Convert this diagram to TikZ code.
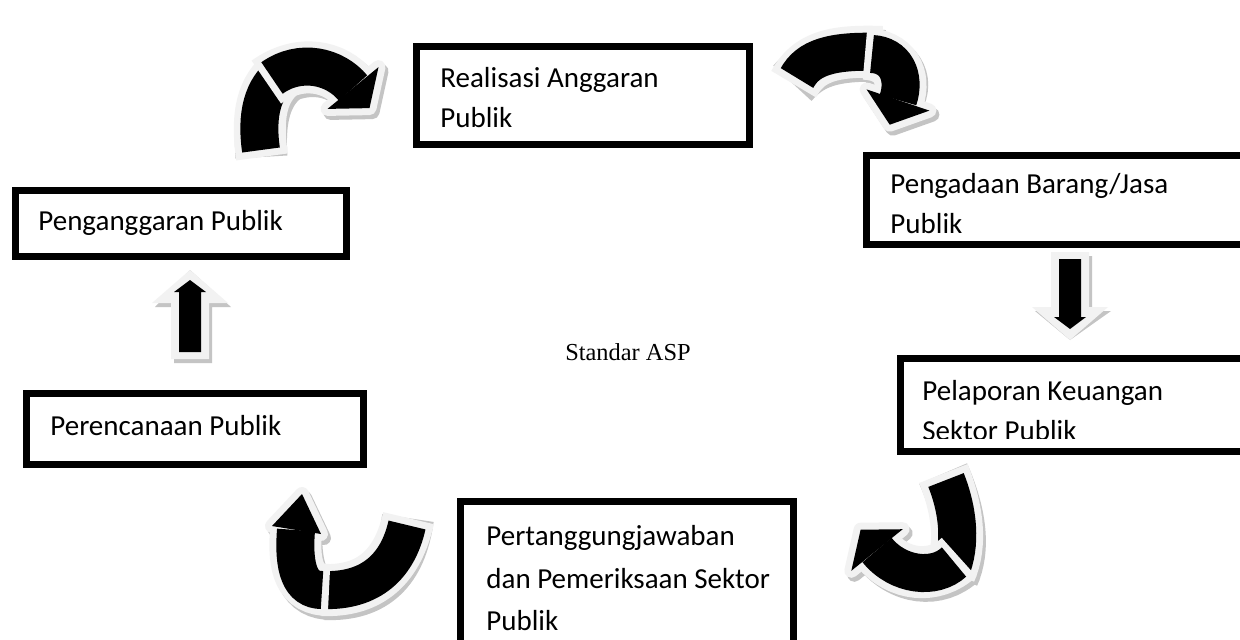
\documentclass[tikz,border=0pt]{standalone}
\usepackage{fontspec}
\setmainfont{Carlito}
\newfontfamily\serifasp{Liberation Serif}
\definecolor{rimgray}{HTML}{F2F2F2}
\definecolor{shadegray}{HTML}{C4C4C4}
\tikzset{
  box/.style={draw=black, line width=3.5pt, inner sep=0pt, outer sep=0pt},
  lbl/.style={anchor=base west, inner sep=0pt, font=\fontsize{14.5pt}{17pt}\selectfont},
  bandshadow/.style={draw=shadegray, line width=26pt},
  bandrim/.style={draw=rimgray, line width=26pt},
  bandcore/.style={draw=black, line width=19pt},
  headshadow/.style={fill=shadegray, draw=shadegray, line width=7pt, line join=round},
  headrim/.style={fill=rimgray, draw=rimgray, line width=7pt, line join=round},
  headcore/.style={fill=black},
}
\newcommand\twistarrow[3]{%
  \begin{scope}[shift={(3,4)}]
    \path[bandshadow, shorten <=-3.5pt] #1;
    \path[bandshadow, shorten <=-3.5pt] #2;
    \path[headshadow] #3;
  \end{scope}
  \path[bandrim, shorten <=-3.5pt] #1;
  \path[bandcore] #1;
  \path[bandrim, shorten <=-3.5pt] #2;
  \path[headrim] #3;
  \path[bandcore] #2;
  \path[headcore] #3;
}
\begin{document}
\begin{tikzpicture}[x=0.5pt, y=-0.5pt]
\fill[white] (0,0) rectangle (1240,639);
\useasboundingbox (0,0) rectangle (1240,639);

% boxes
\node[box, minimum width=166.5pt, minimum height=49pt] (realisasi) at (583,95.5) {};
\node[box, minimum width=188.25pt, minimum height=44.5pt] (pengadaan) at (1054.75,200) {};
\node[box, minimum width=165.5pt, minimum height=33pt] (penganggaran) at (181,223.5) {};
\node[box, minimum width=168.5pt, minimum height=35.5pt] (perencanaan) at (195,429) {};
\node[box, minimum width=171.25pt, minimum height=46.5pt] (pelaporan) at (1071.75,405) {};
\node[box, minimum width=166.5pt, minimum height=71.75pt] (pertanggung) at (627,573.25) {};

% texts
\node[lbl] (t1a) at (440,87) {Realisasi Anggaran};
\node[lbl] (t1b) at (440,127) {Publik};
\node[lbl] (t2a) at (890,193) {Pengadaan Barang/Jasa};
\node[lbl] (t2b) at (890,233) {Publik};
\node[lbl] (t3) at (38,230) {Penganggaran Publik};
\node[lbl] (t4) at (50,435) {Perencanaan Publik};
\node[lbl] (t5a) at (922,400) {Pelaporan Keuangan};
\begin{scope}
  \clip (905,360) rectangle (1240,438);
  \node[lbl] (t5b) at (922,440) {Sektor Publik};
\end{scope}
\node[lbl] (t6a) at (486,545) {Pertanggungjawaban};
\node[lbl] (t6b) at (486,588) {dan Pemeriksaan Sektor};
\node[lbl] (t6c) at (486,630) {Publik};
\node[anchor=base, inner sep=0pt, font=\serifasp\fontsize{12.2pt}{14pt}\selectfont] (asp) at (628,360) {Standar ASP};

% curved arrows
\coordinate (A0) at (261,150); \coordinate (A1) at (353,88);
\twistarrow{(A0) .. controls (256,115) and (262,88) .. (284,72)}
           {(272,78) .. controls (300,58) and (335,66) .. (A1)}
           {(378.5,67.1) -- (369.5,108.1) -- (327.5,108.9) -- cycle}

\coordinate (B0) at (797,78); \coordinate (B1) at (898,100);
\twistarrow{(B0) .. controls (808,58) and (830,50) .. (882,52)}
           {(872,54) .. controls (895,55) and (906,76) .. (B1)}
           {(929.4,110.6) -- (889.7,124.7) -- (866.6,89.4) -- cycle}

\coordinate (C0) at (946,480); \coordinate (C1) at (877,550);
\twistarrow{(C0) .. controls (958,510) and (962,545) .. (950,572)}
           {(954,562) .. controls (935,580) and (898,576) .. (C1)}
           {(902.7,529.2) -- (860.6,529.7) -- (851.3,570.8) -- cycle}

\coordinate (D0) at (407,525); \coordinate (D1) at (296,530);
\twistarrow{(D0) .. controls (398,565) and (372,592) .. (322,590)}
           {(322,590) .. controls (300,590) and (293,568) .. (D1)}
           {(272,526) -- (302,494) -- (321,534) -- cycle}

% straight block arrows
\coordinate (U0) at (190,359); \coordinate (U1) at (190,270);
\fill[shadegray, shift={(3,4)}] (171,359) -- (171,303) -- (152,303) -- (U1) -- (228,303) -- (209,303) -- (209,359) -- cycle;
\fill[rimgray] (171,359) -- (171,303) -- (152,303) -- (U1) -- (228,303) -- (209,303) -- (209,359) -- cycle;
\fill[black] (179,352) -- (179,292) -- (174,292) -- (190,280) -- (206,292) -- (201,292) -- (201,352) -- cycle;

\coordinate (V0) at (1070,252); \coordinate (V1) at (1070,340);
\fill[shadegray, shift={(3,4)}] (1051,252) -- (1089,252) -- (1089,307) -- (1108,307) -- (V1) -- (1032,307) -- (1051,307) -- cycle;
\fill[rimgray] (1051,252) -- (1089,252) -- (1089,307) -- (1108,307) -- (V1) -- (1032,307) -- (1051,307) -- cycle;
\fill[black] (1059,259) -- (1081,259) -- (1081,317) -- (1086,317) -- (1070,329) -- (1054,317) -- (1059,317) -- cycle;
\end{tikzpicture}
\end{document}
